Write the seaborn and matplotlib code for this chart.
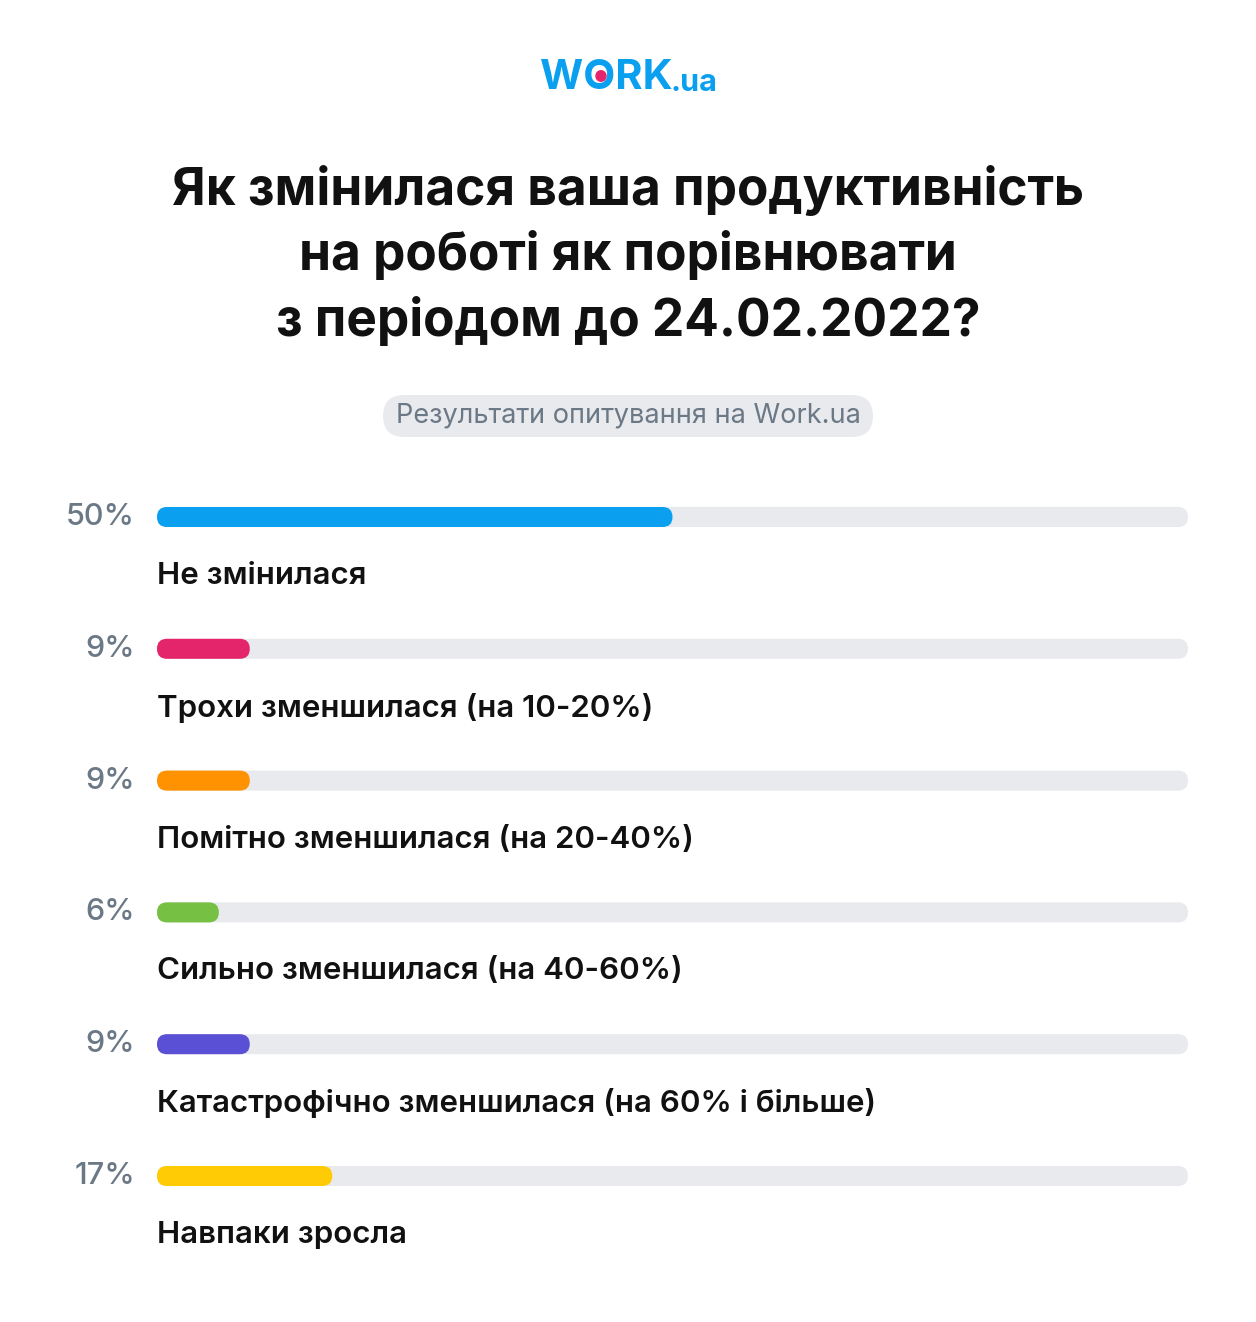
import matplotlib
matplotlib.use("Agg")
import matplotlib.pyplot as plt
import seaborn as sns
import pandas as pd
from matplotlib.patches import FancyBboxPatch

categories = ["Не змінилася", "Трохи зменшилася (на 10-20%)", "Помітно зменшилася (на 20-40%)",
              "Сильно зменшилася (на 40-60%)", "Катастрофічно зменшилася (на 60% і більше)", "Навпаки зросла"]
values = [50, 9, 9, 6, 9, 17]
value_labels = ["50%", "9%", "9%", "6%", "9%", "17%"]
colors = ["#0ba0ef", "#e5256b", "#ff9200", "#76c043", "#5a50d5", "#ffcb05"]

plt.rcParams["font.family"] = "Inter"
W, H = 1256, 1322
fig = plt.figure(figsize=(W/100, H/100), dpi=100)
fig.patch.set_facecolor("white")

x0, x1 = 157, 1188
step = 131.8
ytop = 517 - step/2
ybot = ytop + 6*step
ax = fig.add_axes([x0/W, 1-ybot/H, (x1-x0)/W, (ybot-ytop)/H])
df = pd.DataFrame({"cat": categories, "val": values, "track": [100]*6})
sns.barplot(data=df, x="track", y="cat", color="#e9eaed", width=0.152, ax=ax, orient="h", saturation=1)
sns.barplot(data=df, x="val", y="cat", hue="cat", palette=colors, width=0.152, ax=ax, orient="h",
            legend=False, saturation=1)
ax.set_xlim(0, 100)
ax.set_ylim(5.5, -0.5)
ax.axis("off")

xpp = 100/(x1-x0)
ypp = 1/step
r = 10*xpp
patches = list(ax.patches)
for p in patches:
    bx, by, bw, bh = p.get_x(), p.get_y(), p.get_width(), p.get_height()
    fc = p.get_facecolor()
    p.set_visible(False)
    if bw <= 0:
        continue
    fb = FancyBboxPatch((bx, by), bw, bh, boxstyle=f"round,pad=0,rounding_size={r}",
                        mutation_aspect=ypp/xpp, facecolor=fc, edgecolor="none")
    ax.add_patch(fb)

for i, (lab, cat) in enumerate(zip(value_labels, categories)):
    yc = 517 + i*step
    fig.text(135/W, 1-yc/H, lab, ha="right", va="center", fontsize=22, color="#6b7886", fontweight="medium")
    fig.text(157/W, 1-(yc+59)/H, cat, ha="left", va="center", fontsize=22.5, color="#111111", fontweight="semibold")

for j, line in enumerate(["Як змінилася ваша продуктивність", "на роботі як порівнювати", "з періодом до 24.02.2022?"]):
    fig.text(0.5, 1-(190+66*j)/H, line, ha="center", va="center", fontsize=37, fontweight="bold", color="#111111")

pill = FancyBboxPatch((383/W, 1-437/H), (873-383)/W, 42/H,
                      boxstyle="round,pad=0,rounding_size=0.017", transform=fig.transFigure,
                      facecolor="#e9eaed", edgecolor="none", mutation_aspect=W/H)
fig.patches.append(pill)
fig.text(628/W, 1-416/H, "Результати опитування на Work.ua", ha="center", va="center", fontsize=19.5, color="#6b7886")

fig.text(540/W, 1-78/H, "WORK", ha="left", va="center", fontsize=30, fontweight="bold", color="#0ba0ef")
fig.text(670/W, 1-83/H, ".ua", ha="left", va="center", fontsize=22, fontweight="bold", color="#0ba0ef")
fig.patches.append(plt.Circle((601/W, 1-76/H), 5/W, transform=fig.transFigure, color="#e5256b"))

fig.savefig("out.png", dpi=100)
